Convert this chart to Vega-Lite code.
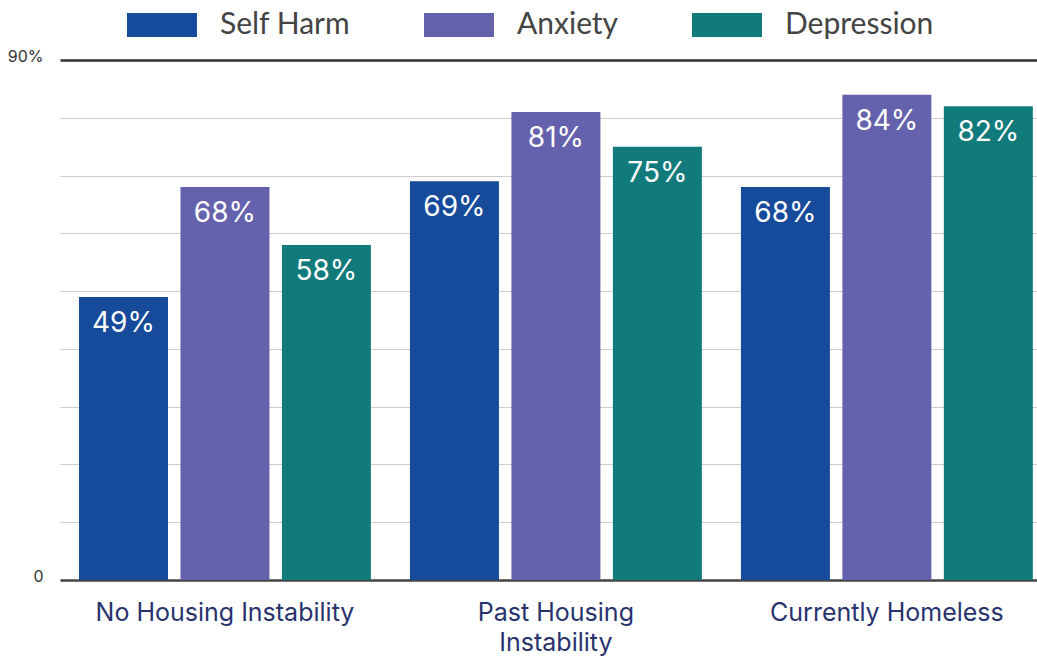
{
  "$schema": "https://vega.github.io/schema/vega-lite/v6.json",
  "width": 977,
  "height": 520,
  "autosize": {"type": "none"},
  "padding": {"left": 60, "top": 60, "right": 0, "bottom": 78},
  "background": "white",
  "config": {"view": {"stroke": null}},
  "data": {
    "values": [
      {"group": "No Housing Instability", "measure": "Self Harm", "value": 0.49},
      {"group": "No Housing Instability", "measure": "Anxiety", "value": 0.68},
      {"group": "No Housing Instability", "measure": "Depression", "value": 0.58},
      {"group": "Past Housing Instability", "measure": "Self Harm", "value": 0.69},
      {"group": "Past Housing Instability", "measure": "Anxiety", "value": 0.81},
      {"group": "Past Housing Instability", "measure": "Depression", "value": 0.75},
      {"group": "Currently Homeless", "measure": "Self Harm", "value": 0.68},
      {"group": "Currently Homeless", "measure": "Anxiety", "value": 0.84},
      {"group": "Currently Homeless", "measure": "Depression", "value": 0.82}
    ]
  },
  "encoding": {
    "x": {
      "field": "group",
      "type": "nominal",
      "sort": ["No Housing Instability", "Past Housing Instability", "Currently Homeless"],
      "scale": {"paddingInner": 0.118, "paddingOuter": 0.035, "align": 0.82},
      "axis": {
        "title": null,
        "labelAngle": 0,
        "ticks": false,
        "domain": true,
        "domainColor": "#444444",
        "domainWidth": 2.5,
        "labelFont": "Inter",
        "labelFontSize": 25,
        "labelColor": "#28336e",
        "labelPadding": 20,
        "labelLineHeight": 30,
        "labelBaseline": "top",
        "labelLimit": 400,
        "labelExpr": "datum.value == 'Past Housing Instability' ? ['Past Housing', 'Instability'] : datum.value"
      }
    },
    "xOffset": {
      "field": "measure",
      "type": "nominal",
      "sort": ["Self Harm", "Anxiety", "Depression"],
      "scale": {"paddingInner": 0.123, "paddingOuter": 0}
    },
    "y": {
      "field": "value",
      "type": "quantitative",
      "scale": {"domain": [0, 0.9], "nice": false},
      "axis": {
        "title": null,
        "values": [0, 0.1, 0.2, 0.3, 0.4, 0.5, 0.6, 0.7, 0.8, 0.9],
        "domain": false,
        "ticks": false,
        "grid": true,
        "gridColor": {"condition": {"test": "datum.value > 0.85", "value": "#333333"}, "value": "#cccccc"},
        "gridWidth": {"condition": {"test": "datum.value > 0.85", "value": 2.5}, "value": 1},
        "labelExpr": "datum.value == 0 ? '0' : (datum.value > 0.85 ? '90%' : '')",
        "labelFont": "Inter",
        "labelFontSize": 16,
        "labelColor": "#333333",
        "labelPadding": 17,
        "labelOffset": -4
      }
    }
  },
  "layer": [
    {
      "mark": {"type": "bar"},
      "encoding": {
        "color": {
          "field": "measure",
          "type": "nominal",
          "sort": ["Self Harm", "Anxiety", "Depression"],
          "scale": {"domain": ["Self Harm", "Anxiety", "Depression"], "range": ["#164a9b", "#6562ad", "#117a7b"]},
          "legend": {
            "title": null,
            "orient": "none",
            "direction": "horizontal",
            "legendX": 64,
            "legendY": -50,
            "symbolType": "M-1,-1L4.83,-1L4.83,1L-1,1Z",
            "symbolSize": 576,
            "symbolStrokeWidth": 0,
            "symbolOpacity": 1,
            "labelFont": "Lato",
            "labelFontSize": 30,
            "labelColor": "#444444",
            "labelOffset": 66,
            "columnPadding": 70,
            "labelLimit": 300
          }
        }
      }
    },
    {
      "mark": {"type": "text", "color": "white", "dy": 27, "baseline": "middle", "font": "Inter", "fontSize": 28},
      "encoding": {"text": {"field": "value", "type": "quantitative", "format": ".0%"}}
    }
  ]
}
